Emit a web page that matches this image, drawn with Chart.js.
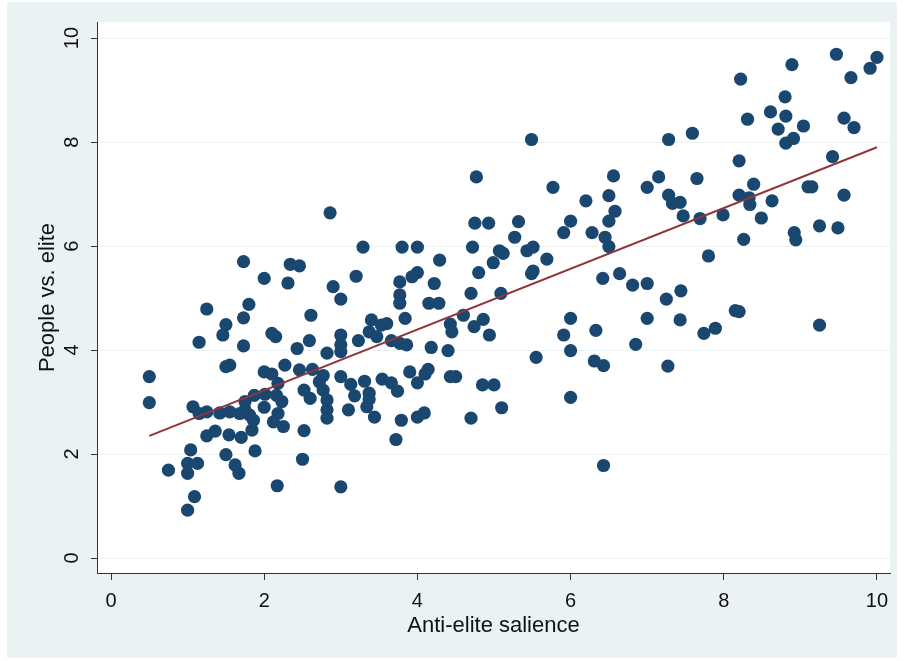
<!DOCTYPE html>
<html>
<head>
<meta charset="utf-8">
<title>People vs. elite</title>
<script src="https://cdn.jsdelivr.net/npm/chart.js@4.4.1/dist/chart.umd.min.js"></script>
<style>
  html, body { margin: 0; padding: 0; background: #ffffff; }
  #wrap { width: 905px; height: 661px; }
</style>
</head>
<body>
<div id="wrap"><canvas id="myChart" width="905" height="661"></canvas></div>
<script>
// anti-elite salience (x) and people vs. elite (y), one entry per party
var salience = [
    1.73, 2.34, 2.46, 2.00, 2.31, 2.90, 1.80, 1.25, 2.61, 1.73,
    1.50, 1.46, 2.10, 2.15, 2.59, 1.15, 1.73, 2.43, 2.82, 0.50,
    1.50, 1.55, 2.27, 2.00, 2.10, 2.46, 2.63, 2.77, 2.72, 2.18,
    2.52, 2.60, 2.77, 2.82, 0.50, 2.23, 2.16, 1.87, 2.01, 1.75,
    1.75, 1.07, 1.15, 1.25, 1.42, 1.55, 1.68, 1.81, 1.86, 2.00,
    2.18, 2.82, 2.82, 2.12, 2.25, 1.84, 1.36, 1.25, 1.54, 1.70,
    2.52, 1.04, 1.50, 1.88, 1.00, 1.13, 1.00, 0.75, 1.62, 1.67,
    2.50, 2.17, 1.09, 1.00, 2.86, 4.75, 4.93, 5.32, 5.27, 3.29,
    3.80, 4.00, 4.72, 5.07, 5.12, 4.29, 4.99, 3.20, 3.93, 4.00,
    4.80, 3.77, 4.22, 4.70, 5.09, 3.77, 3.00, 3.77, 4.15, 4.28,
    3.84, 3.40, 3.53, 3.60, 4.60, 4.86, 4.74, 4.43, 4.45, 4.94,
    3.37, 3.47, 3.00, 3.23, 3.66, 3.77, 3.86, 3.00, 3.00, 4.18,
    4.40, 3.90, 4.14, 4.10, 4.00, 4.43, 4.50, 3.00, 3.13, 3.31,
    3.54, 3.66, 3.74, 4.85, 5.00, 3.18, 3.37, 3.37, 3.34, 3.10,
    3.44, 3.79, 4.00, 4.09, 4.70, 5.10, 3.72, 3.00, 4.77, 5.49,
    7.28, 7.59, 6.56, 7.15, 7.65, 5.77, 7.00, 6.20, 6.50, 7.28,
    7.33, 7.43, 6.58, 6.50, 7.47, 7.69, 6.00, 5.91, 6.28, 6.45,
    6.50, 5.43, 5.51, 5.69, 5.51, 5.49, 6.42, 6.64, 6.81, 7.00,
    7.25, 7.44, 6.00, 5.91, 6.33, 7.00, 7.43, 6.00, 5.55, 6.85,
    6.31, 6.43, 7.27, 6.00, 6.43, 8.89, 9.91, 10.00, 9.47, 8.22,
    9.66, 8.80, 8.61, 8.81, 8.31, 8.71, 9.04, 9.57, 9.70, 8.81,
    8.91, 9.42, 8.20, 8.39, 8.20, 8.33, 8.34, 8.63, 9.10, 9.15,
    9.57, 7.99, 8.49, 8.92, 8.94, 9.25, 9.49, 8.26, 7.80, 8.15,
    8.20, 7.74, 7.89, 9.25
];
var peopleElite = [
    5.70, 5.65, 5.62, 5.38, 5.29, 5.22, 4.88, 4.79, 4.67, 4.62,
    4.49, 4.29, 4.32, 4.26, 4.18, 4.15, 4.08, 4.03, 3.94, 3.49,
    3.68, 3.71, 3.71, 3.58, 3.54, 3.62, 3.63, 3.51, 3.39, 3.36,
    3.23, 3.07, 3.23, 3.04, 2.99, 3.01, 3.13, 3.13, 3.15, 3.01,
    2.85, 2.91, 2.78, 2.81, 2.79, 2.81, 2.78, 2.75, 2.65, 2.90,
    2.78, 2.85, 2.69, 2.62, 2.53, 2.46, 2.44, 2.35, 2.37, 2.32,
    2.45, 2.08, 1.99, 2.06, 1.82, 1.82, 1.63, 1.69, 1.79, 1.63,
    1.90, 1.39, 1.18, 0.92, 6.64, 6.44, 6.44, 6.47, 6.17, 5.98,
    5.98, 5.98, 5.98, 5.91, 5.86, 5.73, 5.68, 5.42, 5.41, 5.49,
    5.49, 5.31, 5.28, 5.09, 5.09, 5.06, 4.98, 4.90, 4.90, 4.90,
    4.61, 4.58, 4.48, 4.51, 4.67, 4.59, 4.45, 4.50, 4.35, 4.29,
    4.35, 4.26, 4.29, 4.18, 4.18, 4.13, 4.10, 4.10, 3.97, 4.05,
    3.99, 3.58, 3.63, 3.54, 3.37, 3.49, 3.49, 3.49, 3.34, 3.40,
    3.44, 3.37, 3.21, 3.33, 3.33, 3.12, 3.17, 3.05, 2.91, 2.85,
    2.71, 2.65, 2.71, 2.79, 2.69, 2.89, 2.28, 1.37, 7.33, 8.05,
    8.05, 8.17, 7.35, 7.33, 7.30, 7.13, 7.13, 6.87, 6.97, 6.98,
    6.82, 6.84, 6.67, 6.48, 6.58, 6.53, 6.48, 6.26, 6.26, 6.17,
    5.99, 5.91, 5.98, 5.75, 5.52, 5.47, 5.38, 5.47, 5.25, 5.28,
    4.98, 5.14, 4.61, 4.29, 4.38, 4.61, 4.58, 3.99, 3.86, 4.11,
    3.79, 3.70, 3.69, 3.09, 1.78, 9.49, 9.42, 9.63, 9.69, 9.21,
    9.24, 8.87, 8.58, 8.50, 8.44, 8.25, 8.31, 8.46, 8.28, 7.98,
    8.07, 7.72, 7.64, 7.19, 6.98, 6.93, 6.80, 6.87, 7.14, 7.14,
    6.98, 6.60, 6.54, 6.26, 6.12, 6.39, 6.35, 6.13, 5.81, 4.76,
    4.74, 4.32, 4.42, 4.48
];

// fitted values (linear fit), end points
var fitX = [0.5, 10];
var fitY = [2.35, 7.90];

var xTicks = [0, 2, 4, 6, 8, 10];
var yTicks = [0, 2, 4, 6, 8, 10];

function makePoints(xs, ys){
    var pts = [];
    for (var i = 0; i < xs.length; i++) {
        pts.push({x: xs[i], y: ys[i]});
    }
    return pts;
}

function tickList(vals){
    return vals.map(function(v){ return {value: v}; });
}

// bluish grey frame with the white plot region inside
var background = {
    id: 'background',
    beforeDraw: function(chart){
        var ctx = chart.ctx;
        var a = chart.chartArea;
        ctx.save();
        ctx.fillStyle = '#ffffff';
        ctx.fillRect(0, 0, chart.width, chart.height);
        ctx.fillStyle = '#eaf2f3';
        ctx.fillRect(7, 2, 890, 656);
        ctx.fillStyle = '#ffffff';
        ctx.fillRect(a.left, a.top, a.right - a.left, a.bottom - a.top);
        ctx.restore();
    }
};

Chart.defaults.font.family = '"Liberation Sans", Arial, sans-serif';

var ctx = document.getElementById("myChart").getContext('2d');
var myChart = new Chart(ctx, {
    type: 'scatter',
    data: {
        datasets: [{
            // fit line first so it sits on top of the dots
            label: 'Fitted values',
            data: makePoints(fitX, fitY),
            showLine: true,
            borderColor: '#90353b',
            borderWidth: 2,
            pointRadius: 0,
            pointHoverRadius: 0,
            fill: false
        }, {
            label: 'People vs. elite',
            data: makePoints(salience, peopleElite),
            backgroundColor: '#1a476f',
            borderColor: '#1a476f',
            borderWidth: 0,
            pointRadius: 6.6,
            pointHoverRadius: 6.6
        }]
    },
    options: {
        responsive: false,
        animation: false,
        devicePixelRatio: 1,
        layout: {
            padding: {left: 0, right: 15, top: 22, bottom: 0}
        },
        plugins: {
            legend: {display: false},
            tooltip: {enabled: false}
        },
        scales: {
            x: {
                type: 'linear',
                min: -0.183,
                max: 10.17,
                afterBuildTicks: function(scale){ scale.ticks = tickList(xTicks); },
                afterFit: function(scale){ scale.height = 88; },
                grid: {
                    drawOnChartArea: false,
                    tickColor: '#333333',
                    tickLength: 7,
                    tickWidth: 1
                },
                border: {color: '#333333', width: 1},
                ticks: {
                    color: '#111111',
                    font: {size: 20},
                    padding: 9,
                    maxRotation: 0
                },
                title: {
                    display: true,
                    text: 'Anti-elite salience',
                    color: '#111111',
                    font: {size: 22},
                    padding: {top: 0, bottom: 22}
                }
            },
            y: {
                type: 'linear',
                min: -0.288,
                max: 10.31,
                afterBuildTicks: function(scale){ scale.ticks = tickList(yTicks); },
                afterFit: function(scale){ scale.width = 97; },
                grid: {
                    color: '#eaf2f3',
                    lineWidth: 1,
                    tickColor: '#333333',
                    tickLength: 6,
                    tickWidth: 1
                },
                border: {color: '#333333', width: 1},
                ticks: {
                    color: '#111111',
                    font: {size: 20},
                    minRotation: 90,
                    maxRotation: 90,
                    crossAlign: 'center',
                    padding: 7,
                    // nudge rotated labels a little away from the axis
                },
                title: {
                    display: true,
                    text: 'People vs. elite',
                    color: '#111111',
                    font: {size: 22},
                    padding: {top: 35, bottom: 0}
                }
            }
        }
    },
    plugins: [background]
});
</script>
</body>
</html>
